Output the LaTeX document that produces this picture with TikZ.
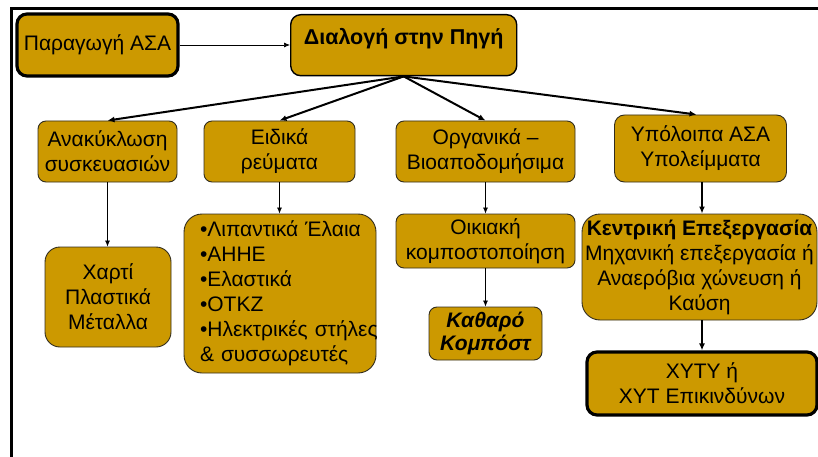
\documentclass[tikz,border=0pt]{standalone}
\usepackage{fontspec}
\setmainfont{Liberation Sans}
\usetikzlibrary{arrows.meta}
\definecolor{gold}{RGB}{204,153,0}
\definecolor{edge}{RGB}{50,45,30}
\tikzset{
  box/.style={draw=edge, line width=0.9pt, fill=gold, rounded corners=8pt, inner sep=0pt, align=center,
    font=\fontsize{21}{25}\selectfont},
  heavybox/.style={box, draw=black, line width=3.2pt, rounded corners=10pt},
  thinarrow/.style={draw=black, line width=0.7pt, -{Latex[length=6pt,width=5pt]}},
  thickarrow/.style={draw=black, line width=2pt, -{Latex[length=7pt,width=6pt]}},
}
\begin{document}
\begin{tikzpicture}[x=1pt,y=-1pt]
\useasboundingbox (0,0) rectangle (818,457);
% frame
\draw[line width=3pt, black] (11,457) -- (11,9) -- (818,9);

\node[heavybox, minimum width=161pt, minimum height=62pt] (par) at (97.5,45) {Παραγωγή ΑΣΑ};
\node[box, draw=black, line width=1.4pt, rounded corners=10pt, minimum width=226pt, minimum height=61pt,
  anchor=north west, font=\fontsize{21.5}{25}\selectfont\bfseries,
  inner ysep=0pt, text height=30pt, text depth=31pt] (dia) at (290,14) {Διαλογή στην Πηγή};

\node[box, minimum width=139pt, minimum height=61pt] (ana) at (107.5,151.5) {Ανακύκλωση\\συσκευασιών};
\node[box, minimum width=151pt, minimum height=61pt] (eid) at (279.5,151.5) {Ειδικά\\ρεύματα};
\node[box, minimum width=179pt, minimum height=61pt] (org) at (485.5,151.5) {Οργανικά –\\Βιοαποδομήσιμα};
\node[box, minimum width=172pt, minimum height=67pt, rounded corners=10pt] (ypo) at (700.5,148.5) {Υπόλοιπα ΑΣΑ\\Υπολείμματα};

\node[box, minimum width=126pt, minimum height=100pt, rounded corners=15pt] (xar) at (108,297) {Χαρτί\\Πλαστικά\\Μέταλλα};
\node[box, minimum width=192pt, minimum height=159pt, rounded corners=18pt, align=left,
  text width=160pt, inner xsep=16pt] (lst) at (280,293.5)
  {\mbox{•Λιπαντικά Έλαια}\\\mbox{•ΑΗΗΕ}\\\mbox{•Ελαστικά}\\\mbox{•ΟΤΚΖ}\\\mbox{•Ηλεκτρικές στήλες}\\\mbox{\& συσσωρευτές}};
\node[box, minimum width=179pt, minimum height=54pt] (oik) at (485.5,241) {Οικιακή\\κομποστοποίηση};
\node[box, minimum width=113pt, minimum height=53pt, font=\fontsize{21}{23}\selectfont\bfseries\itshape] (kat) at (485.5,333.5) {Καθαρό\\Κομπόστ};
\node[box, minimum width=235pt, minimum height=106pt, rounded corners=18pt] (ken) at (699.5,267)
  {\textbf{Κεντρική Επεξεργασία}\\Μηχανική επεξεργασία ή\\Αναερόβια χώνευση ή\\Καύση};
\node[heavybox, minimum width=230pt, minimum height=63pt] (xyt) at (702,383.5) {ΧΥΤΥ ή\\ΧΥΤ Επικινδύνων};

% connectors
\draw[thinarrow] (par.east) -- (dia.west |- par.east);
\draw[thickarrow] (dia.south) -- (ana.north);
\draw[thickarrow] (dia.south) -- (eid.north);
\draw[thickarrow] (dia.south) -- (org.north);
\draw[thickarrow] (dia.south) -- ([xshift=-4pt]ypo.north);
\draw[thinarrow] (ana.south) -- (ana.south |- xar.north);
\draw[thinarrow] (eid.south) -- (eid.south |- lst.north);
\draw[thinarrow] (org.south) -- (org.south |- oik.north);
\draw[thinarrow] (oik.south) -- (oik.south |- kat.north);
\draw[thickarrow] ([xshift=1.5pt]ypo.south) -- ([xshift=1.5pt]ypo.south |- ken.north);
\draw[thickarrow] ([xshift=2.5pt]ken.south) -- ([xshift=2.5pt]ken.south |- xyt.north);
\end{tikzpicture}
\end{document}
